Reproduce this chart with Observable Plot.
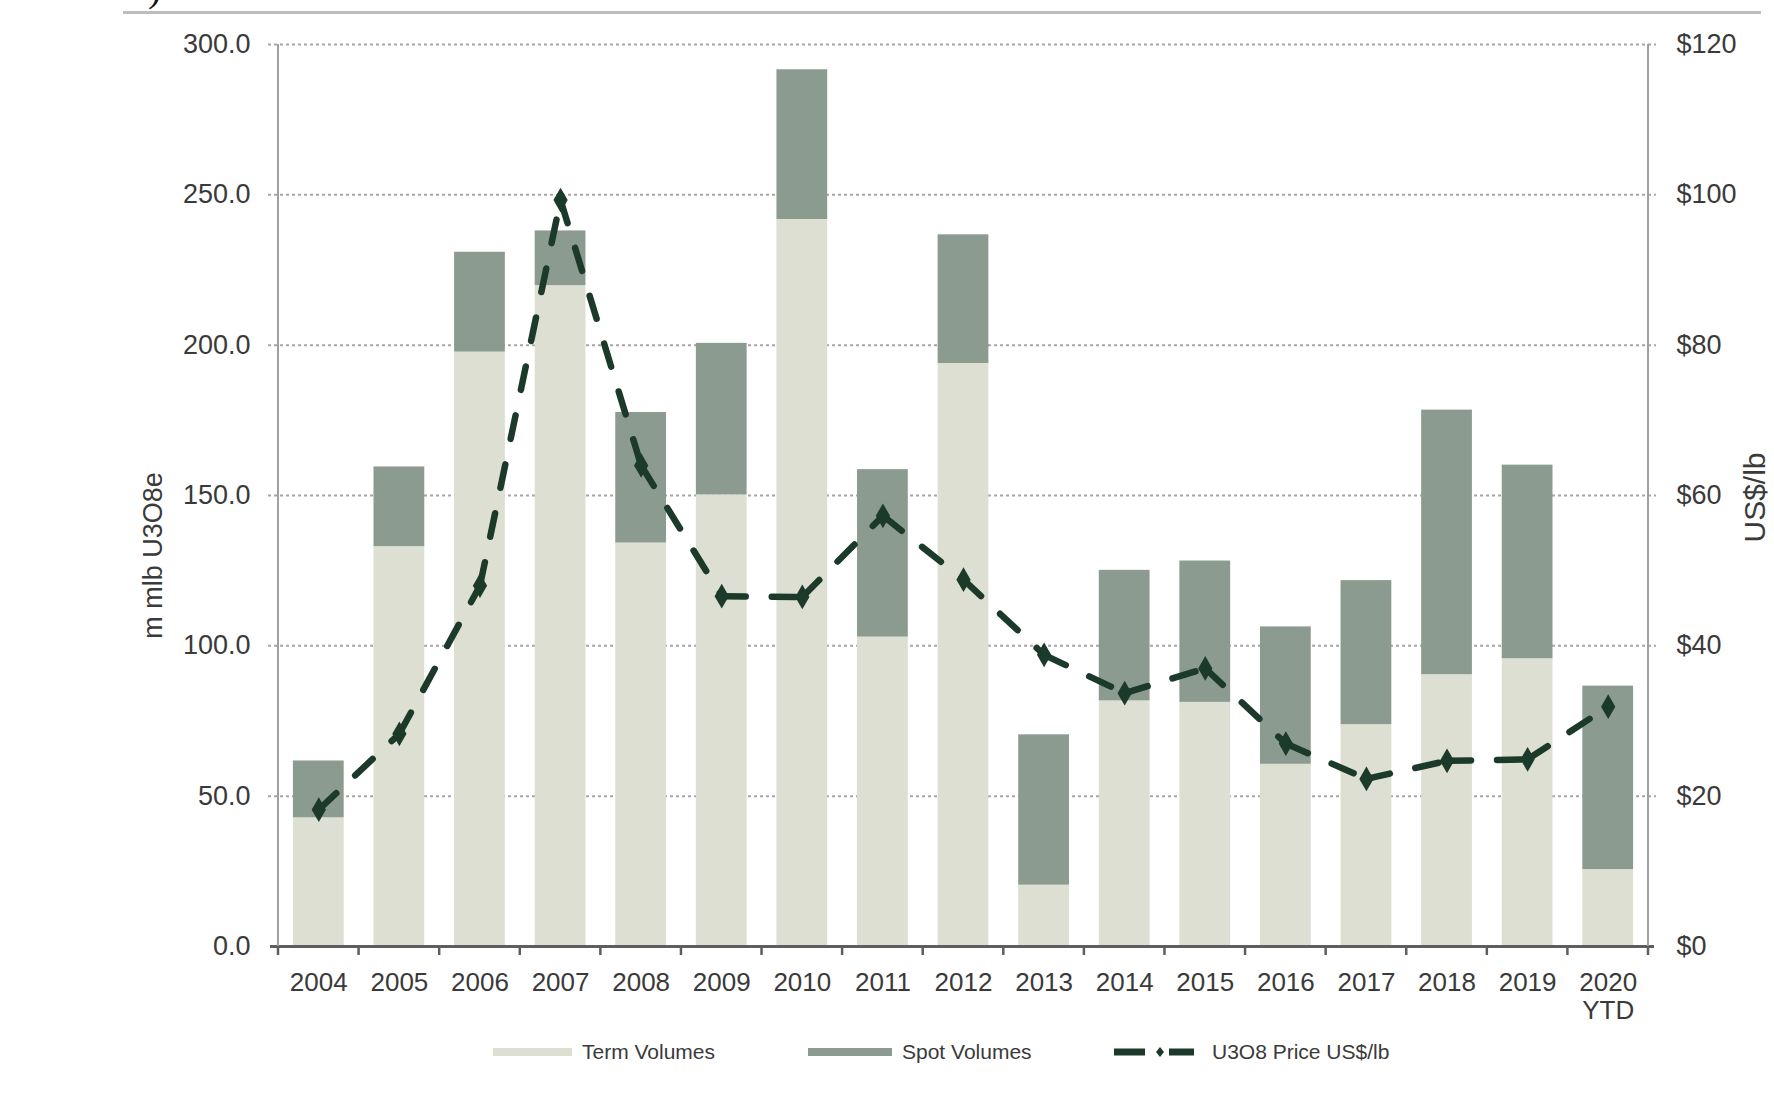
<!DOCTYPE html>
<html><head><meta charset="utf-8">
<script src="https://cdn.jsdelivr.net/npm/d3@7"></script>
<script src="https://cdn.jsdelivr.net/npm/@observablehq/plot@0.6"></script>
<style>
body{margin:0;background:#fff;width:1774px;height:1098px;overflow:hidden;position:relative;font-family:"Liberation Sans",Arial,sans-serif;}
#chart{position:absolute;left:0;top:0;}
.topline{position:absolute;left:123px;top:11px;width:1638px;height:3px;background:#bdbdbd;}
.paren{position:absolute;left:148px;top:-32px;font:40px "Liberation Serif",serif;line-height:40px;color:#111;}
.sw{position:absolute;top:1048px;height:8px;}
.lt{position:absolute;top:1040px;font-size:21px;line-height:24px;color:#3a3a3a;white-space:nowrap;}
</style></head><body>
<div class="topline"></div><div class="paren">)</div>
<div id="chart"></div>
<div id="legend"></div>
<script>
// ---- data ----
const years = ["2004","2005","2006","2007","2008","2009","2010","2011","2012","2013","2014","2015","2016","2017","2018","2019","2020"];
const yearLabels = ["2004","2005","2006","2007","2008","2009","2010","2011","2012","2013","2014","2015","2016","2017","2018","2019","2020\nYTD"];
const termVolumes = [42.8,133.0,197.7,219.8,134.2,150.2,241.8,102.9,193.9,20.4,81.7,81.2,60.6,73.8,90.4,95.7,25.6];
const spotVolumes = [18.9,26.5,33.2,18.2,43.4,50.4,49.8,55.7,42.8,50.0,43.4,47.0,45.7,47.9,88.0,64.4,61.0];
const priceUSD = [18.2,28.3,48.0,99.3,64.0,46.6,46.5,57.3,48.8,38.8,33.7,37.0,27.0,22.3,24.7,24.9,31.9];
const leftTicks = [0,50,100,150,200,250,300];
const rightTicks = [0,20,40,60,80,100,120];
const seriesNames = ["Term Volumes","Spot Volumes","U3O8 Price US$/lb"];
const colors = {term:"#dcdfd1", spot:"#8c9b8f", price:"#1c3a2a"};

const ratio = leftTicks[leftTicks.length-1] / rightTicks[rightTicks.length-1];
const rows = [];
years.forEach((y,i)=>{
  rows.push({year:y, type:seriesNames[0], value:termVolumes[i]});
  rows.push({year:y, type:seriesNames[1], value:spotVolumes[i]});
});
const prices = years.map((y,i)=>({year:y, price:priceUSD[i]}));
// one path per segment so the dash pattern restarts at each point (as in the source)
const segments = [];
for (let i = 0; i < years.length-1; i++) {
  segments.push({seg:i, year:years[i], price:priceUSD[i]});
  segments.push({seg:i, year:years[i+1], price:priceUSD[i+1]});
}
const labelData = years.map((y,i)=>({year:y, label:yearLabels[i]}));

const plot = Plot.plot({
  width:1774, height:1030,
  marginLeft:278, marginRight:126, marginTop:44, marginBottom:84,
  style:{fontFamily:"Liberation Sans, Arial, sans-serif", color:"#3a3a3a", background:"transparent"},
  x:{type:"band", domain:years, paddingInner:0.37, paddingOuter:0.185, round:false, axis:null},
  y:{domain:[0,300], axis:null},
  color:{domain:seriesNames.slice(0,2), range:[colors.term, colors.spot]},
  marks:[
    Plot.ruleY(leftTicks.filter(v=>v>0), {stroke:"#a6a6a6", strokeWidth:2, strokeDasharray:"3,3", insetLeft:-10, insetRight:-8}),
    Plot.barY(rows, {x:"year", y:"value", fill:"type"}),
    Plot.ruleY([0], {stroke:"#5e5e5e", strokeWidth:3, insetLeft:-8, insetRight:-6}),
    Plot.line(segments, {x:"year", y:d=>d.price*ratio, z:"seg", stroke:colors.price, strokeWidth:6.5, strokeDasharray:"24,26", strokeLinecap:"round"}),
    Plot.dot(prices, {x:"year", y:d=>d.price*ratio, symbol:"diamond", r:7.5, fill:colors.price}),
    Plot.axisY(leftTicks, {anchor:"left", tickSize:0, tickPadding:28, tickFormat:d=>d.toFixed(1), fontSize:27, label:null}),
    Plot.axisY(rightTicks.map(v=>v*ratio), {anchor:"right", tickSize:0, tickPadding:28, tickFormat:d=>"$"+Math.round(d/ratio), fontSize:27, label:null}),
    Plot.text(labelData, {x:"year", y:0, text:"label", dy:24, lineAnchor:"top", lineHeight:1.1, fontSize:26, fill:"#3a3a3a"}),
    Plot.text(["m mlb U3O8e"], {frameAnchor:"left", textAnchor:"middle", dx:-125, dy:60, rotate:-90, fontSize:27, fill:"#3a3a3a"}),
    Plot.text(["US$/lb"], {frameAnchor:"right", textAnchor:"middle", dx:107, dy:2, rotate:-90, fontSize:30, fill:"#3a3a3a"})
  ]
});
document.getElementById("chart").appendChild(plot);

// axis lines and category boundary ticks from Plot's scales
const xs = plot.scale("x"), ys = plot.scale("y");
const svg = d3.select(plot);
const g = svg.append("g");
const y0 = ys.apply(0), yTop = ys.apply(300);
const half = (xs.step - xs.bandwidth)/2;
const bounds = years.map(y=>xs.apply(y)-half);
bounds.push(xs.apply(years[years.length-1]) + xs.bandwidth + half);
[bounds[0], bounds[bounds.length-1]].forEach(x=>{
  g.append("line").attr("x1",x).attr("x2",x).attr("y1",yTop).attr("y2",y0).attr("stroke","#a0a0a0").attr("stroke-width",2);
});
bounds.forEach(x=>{
  g.append("line").attr("x1",x).attr("x2",x).attr("y1",y0).attr("y2",y0+9).attr("stroke","#5e5e5e").attr("stroke-width",2.5);
});

// legend
const leg = document.getElementById("legend");
leg.innerHTML = `
<div class="sw" style="left:493px;width:79px;background:${colors.term}"></div>
<div class="lt" style="left:582px">${seriesNames[0]}</div>
<div class="sw" style="left:808px;width:84px;background:${colors.spot}"></div>
<div class="lt" style="left:902px">${seriesNames[1]}</div>
<svg style="position:absolute;left:1114px;top:1044px" width="82" height="16">
  <line x1="0" x2="31" y1="8" y2="8" stroke="${colors.price}" stroke-width="7"/>
  <path d="M46 3 L50 8 L46 13 L42 8 Z" fill="${colors.price}"/>
  <line x1="55" x2="80" y1="8" y2="8" stroke="${colors.price}" stroke-width="7"/>
</svg>
<div class="lt" style="left:1212px">${seriesNames[2]}</div>`;
</script>
</body></html>
